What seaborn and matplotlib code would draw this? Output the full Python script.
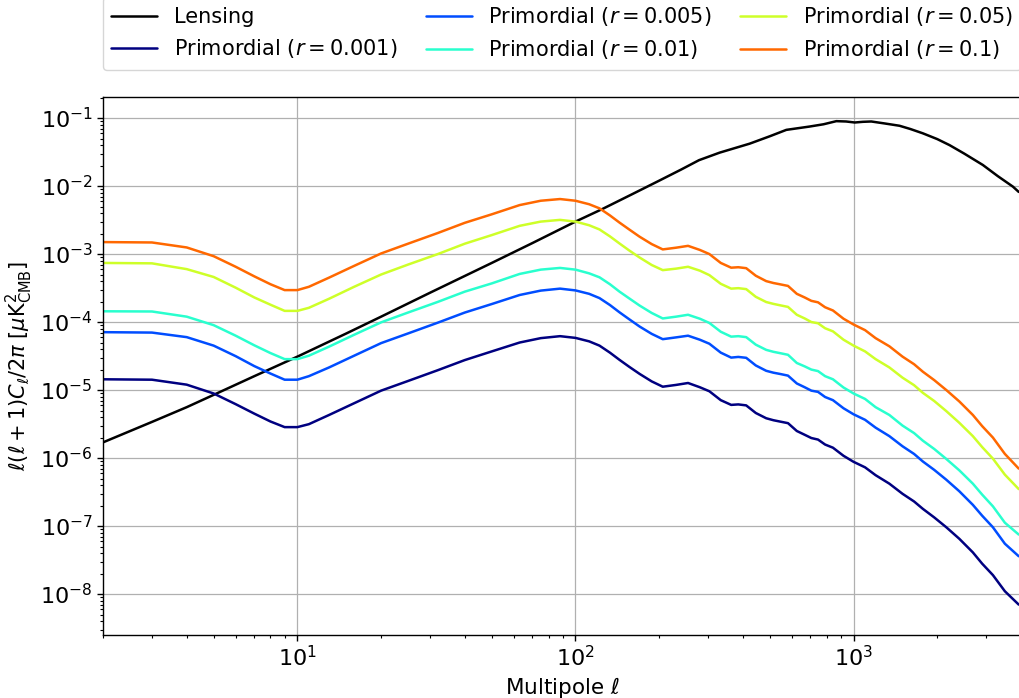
import numpy as np
import matplotlib
matplotlib.use("Agg")
import matplotlib.pyplot as plt
import seaborn as sns

# ---- data ----
ell = [2, 3, 4, 5, 6, 7, 8, 9, 10, 11,
       13, 16, 20, 25, 32, 40, 50, 63, 75, 88,
       100, 112, 122, 133, 144, 156, 170, 188, 206, 230,
       254, 280, 303, 333, 363, 385, 411, 445, 485, 515,
       542, 581, 625, 667, 705, 745, 790, 843, 920, 1000,
       1100, 1200, 1345, 1500, 1650, 1775, 1950, 2155, 2400, 2685,
       2900, 3170, 3500, 3925]

prim_r0p1 = [1.50e-3, 1.48e-3, 1.25e-3, 9.3e-4, 6.5e-4, 4.7e-4, 3.6e-4, 2.95e-4, 2.95e-4, 3.3e-4,
             4.5e-4, 6.7e-4, 1.02e-3, 1.42e-3, 2.04e-3, 2.88e-3, 3.84e-3, 5.25e-3, 6.08e-3, 6.44e-3,
             6.08e-3, 5.4e-3, 4.7e-3, 3.7e-3, 2.9e-3, 2.3e-3, 1.8e-3, 1.4e-3, 1.17e-3, 1.24e-3,
             1.32e-3, 1.15e-3, 1.0e-3, 7.4e-4, 6.3e-4, 6.4e-4, 6.2e-4, 4.8e-4, 4.0e-4, 3.75e-4,
             3.6e-4, 3.4e-4, 2.6e-4, 2.3e-4, 2.05e-4, 1.95e-4, 1.65e-4, 1.48e-4, 1.12e-4, 9.2e-5,
             7.6e-5, 5.8e-5, 4.4e-5, 3.1e-5, 2.4e-5, 1.86e-5, 1.4e-5, 1.0e-5, 6.8e-6, 4.3e-6,
             2.95e-6, 2.0e-6, 1.15e-6, 7.0e-7]

prim_r0p05 = [7.4e-4, 7.3e-4, 6.0e-4, 4.6e-4, 3.2e-4, 2.3e-4, 1.8e-4, 1.46e-4, 1.46e-4, 1.62e-4,
              2.2e-4, 3.3e-4, 5.0e-4, 7.0e-4, 1.0e-3, 1.42e-3, 1.9e-3, 2.6e-3, 3.0e-3, 3.18e-3,
              3.0e-3, 2.65e-3, 2.3e-3, 1.82e-3, 1.43e-3, 1.13e-3, 8.9e-4, 6.9e-4, 5.8e-4, 6.1e-4,
              6.5e-4, 5.7e-4, 4.9e-4, 3.65e-4, 3.1e-4, 3.15e-4, 3.05e-4, 2.35e-4, 1.97e-4, 1.85e-4,
              1.77e-4, 1.67e-4, 1.28e-4, 1.13e-4, 1.0e-4, 9.6e-5, 8.1e-5, 7.3e-5, 5.5e-5, 4.5e-5,
              3.7e-5, 2.85e-5, 2.15e-5, 1.52e-5, 1.18e-5, 9.1e-6, 6.9e-6, 4.9e-6, 3.3e-6, 2.1e-6,
              1.45e-6, 9.8e-7, 5.7e-7, 3.5e-7]

prim_r0p01 = [1.44e-4, 1.43e-4, 1.2e-4, 9.0e-5, 6.3e-5, 4.55e-5, 3.5e-5, 2.85e-5, 2.85e-5, 3.2e-5,
              4.35e-5, 6.5e-5, 9.9e-5, 1.38e-4, 1.98e-4, 2.8e-4, 3.7e-4, 5.1e-4, 5.9e-4, 6.25e-4,
              5.9e-4, 5.2e-4, 4.55e-4, 3.6e-4, 2.8e-4, 2.23e-4, 1.75e-4, 1.36e-4, 1.13e-4, 1.2e-4,
              1.28e-4, 1.12e-4, 9.7e-5, 7.2e-5, 6.1e-5, 6.2e-5, 6.0e-5, 4.65e-5, 3.9e-5, 3.65e-5,
              3.5e-5, 3.3e-5, 2.5e-5, 2.23e-5, 2.0e-5, 1.9e-5, 1.6e-5, 1.44e-5, 1.09e-5, 8.9e-6,
              7.4e-6, 5.6e-6, 4.3e-6, 3.0e-6, 2.33e-6, 1.8e-6, 1.36e-6, 9.7e-7, 6.6e-7, 4.2e-7,
              2.9e-7, 1.95e-7, 1.12e-7, 7.5e-8]

prim_r0p005 = [7.1e-5, 7.0e-5, 6.0e-5, 4.5e-5, 3.15e-5, 2.25e-5, 1.75e-5, 1.42e-5, 1.42e-5, 1.6e-5,
               2.15e-5, 3.2e-5, 4.9e-5, 6.8e-5, 9.8e-5, 1.38e-4, 1.84e-4, 2.5e-4, 2.9e-4, 3.1e-4,
               2.92e-4, 2.6e-4, 2.25e-4, 1.78e-4, 1.39e-4, 1.1e-4, 8.6e-5, 6.7e-5, 5.6e-5, 5.95e-5,
               6.3e-5, 5.5e-5, 4.8e-5, 3.55e-5, 3.0e-5, 3.07e-5, 2.98e-5, 2.3e-5, 1.92e-5, 1.8e-5,
               1.73e-5, 1.63e-5, 1.25e-5, 1.1e-5, 9.8e-6, 9.4e-6, 7.9e-6, 7.1e-6, 5.4e-6, 4.4e-6,
               3.65e-6, 2.8e-6, 2.1e-6, 1.49e-6, 1.15e-6, 8.9e-7, 6.7e-7, 4.8e-7, 3.25e-7, 2.05e-7,
               1.42e-7, 9.6e-8, 5.5e-8, 3.6e-8]

prim_r0p001 = [1.44e-5, 1.42e-5, 1.2e-5, 8.9e-6, 6.2e-6, 4.5e-6, 3.45e-6, 2.85e-6, 2.85e-6, 3.15e-6,
               4.3e-6, 6.4e-6, 9.8e-6, 1.36e-5, 1.96e-5, 2.76e-5, 3.7e-5, 5.0e-5, 5.8e-5, 6.2e-5,
               5.85e-5, 5.2e-5, 4.5e-5, 3.55e-5, 2.78e-5, 2.2e-5, 1.73e-5, 1.34e-5, 1.12e-5, 1.19e-5,
               1.27e-5, 1.1e-5, 9.6e-6, 7.1e-6, 6.05e-6, 6.15e-6, 5.95e-6, 4.6e-6, 3.85e-6, 3.6e-6,
               3.45e-6, 3.26e-6, 2.5e-6, 2.2e-6, 1.97e-6, 1.87e-6, 1.58e-6, 1.42e-6, 1.08e-6, 8.8e-7,
               7.3e-7, 5.6e-7, 4.2e-7, 2.98e-7, 2.3e-7, 1.79e-7, 1.34e-7, 9.6e-8, 6.5e-8, 4.1e-8,
               2.8e-8, 1.9e-8, 1.1e-8, 7.0e-9]

ell_lens = [2, 3, 4, 5, 7, 10, 15, 20, 30, 50,
            70, 100, 125, 160, 200, 240, 278, 330, 423, 500,
            573, 695, 780, 867, 940, 1010, 1080, 1158, 1300, 1463,
            1600, 1775, 2000, 2213, 2500, 2917, 3300, 3741, 3925]
lensing = [1.7e-6, 3.4e-6, 5.6e-6, 8.5e-6, 1.6e-5, 3.1e-5, 6.8e-5, 1.2e-4, 2.7e-4, 7.4e-4,
           1.45e-3, 3.0e-3, 4.6e-3, 7.6e-3, 1.2e-2, 1.75e-2, 2.4e-2, 3.1e-2, 4.2e-2, 5.4e-2,
           6.7e-2, 7.5e-2, 8.1e-2, 9.0e-2, 8.9e-2, 8.6e-2, 8.8e-2, 8.9e-2, 8.3e-2, 7.7e-2,
           6.9e-2, 5.96e-2, 4.9e-2, 4.0e-2, 3.0e-2, 2.04e-2, 1.4e-2, 9.8e-3, 8.2e-3]

r_labels = ["0.001", "0.005", "0.01", "0.05", "0.1"]
prim_series = [prim_r0p001, prim_r0p005, prim_r0p01, prim_r0p05, prim_r0p1]

# ---- style ----
sns.set_style("ticks", {"axes.edgecolor": "black", "xtick.color": "black",
                        "ytick.color": "black", "text.color": "black",
                        "axes.labelcolor": "black"})
plt.rcParams["font.family"] = ["DejaVu Sans"]

fig = plt.figure(figsize=(10.19, 6.98), dpi=100)
ax = fig.add_axes([103 / 1019, 63 / 698, 918 / 1019, 538.3 / 698])

sns.lineplot(x=ell_lens, y=lensing, ax=ax, color="black", linewidth=1.8,
             label="Lensing")
cmap = plt.get_cmap("jet")
cols = [cmap(v) for v in [0.0, 0.2, 0.4, 0.6, 0.8]]
for lab, vals, c in zip(r_labels, prim_series, cols):
    sns.lineplot(x=ell, y=vals, ax=ax, color=c, linewidth=1.8,
                 label=rf"Primordial ($r={lab}$)")

ax.set_xscale("log")
ax.set_yscale("log")
ax.set_xlim(2, 4000)
ax.set_ylim(2.5e-9, 0.206)
ax.grid(True, which="major", color="#b0b0b0", linewidth=0.9)
for s in ax.spines.values():
    s.set_linewidth(1.0)
ax.tick_params(which="major", labelsize=16, length=4, width=1)
ax.tick_params(which="minor", length=2.5, width=0.8)
ax.set_xlabel(r"Multipole $\ell$", fontsize=15.5, labelpad=3)
ax.set_ylabel(r"$\ell(\ell+1)C_\ell/2\pi$ [$\mu{\rm K}^2_{\rm CMB}$]", fontsize=15)

leg = ax.legend(loc="lower left", bbox_to_anchor=(0, 1.05, 1, 0.1), mode="expand",
                ncol=3, fontsize=15, borderaxespad=0.0, handlelength=2.2)
for h in leg.get_lines():
    h.set_linewidth(1.8)

fig.savefig("out.png", dpi=100)
